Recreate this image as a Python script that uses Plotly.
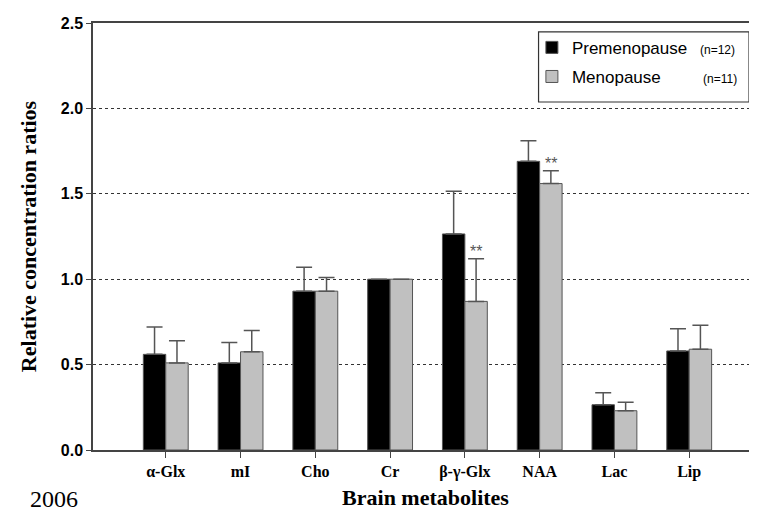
import plotly.graph_objects as go

categories = ["α-Glx", "mI", "Cho", "Cr", "β-γ-Glx", "NAA", "Lac", "Lip"]
pre_mean = [0.56, 0.51, 0.93, 1.00, 1.265, 1.69, 0.265, 0.58]
pre_sd = [0.16, 0.12, 0.14, 0.0, 0.25, 0.12, 0.07, 0.13]
meno_mean = [0.51, 0.575, 0.93, 1.00, 0.87, 1.56, 0.23, 0.59]
meno_sd = [0.13, 0.125, 0.08, 0.0, 0.25, 0.075, 0.05, 0.14]
signif = ["", "", "", "", "**", "**", "", ""]
y_ticks = [0.0, 0.5, 1.0, 1.5, 2.0, 2.5]

xs = list(range(len(categories)))

fig = go.Figure()
fig.add_trace(go.Bar(
    x=xs, y=pre_mean, name="Premenopause", legendgroup="a",
    marker=dict(color="black", line=dict(color="#555555", width=1)),
    error_y=dict(type="data", array=pre_sd, arrayminus=[0]*len(xs), symmetric=False,
                 color="#555555", thickness=1.5, width=8),
))
fig.add_trace(go.Bar(
    x=xs, y=meno_mean, name="Menopause", legendgroup="b",
    marker=dict(color="#c0c0c0", line=dict(color="#555555", width=1)),
    error_y=dict(type="data", array=meno_sd, arrayminus=[0]*len(xs), symmetric=False,
                 color="#555555", thickness=1.5, width=8),
))

serif = "Liberation Serif"
sans = "Liberation Sans"

for i, s in enumerate(signif):
    if s:
        fig.add_annotation(x=i + 0.15, y=meno_mean[i] + meno_sd[i], text=s, showarrow=False,
                           yanchor="bottom", yshift=-3, font=dict(family=sans, size=16, color="#555555"))

fig.update_layout(
    width=757, height=512,
    margin=dict(l=85, r=5, t=15, b=70),
    paper_bgcolor="white", plot_bgcolor="white",
    barmode="group", bargap=0.4, bargroupgap=0,
    showlegend=True,
    legend=dict(x=0.66, y=0.984, xanchor="left", yanchor="top",
                bgcolor="rgba(0,0,0,0)", borderwidth=0,
                font=dict(family=sans, size=17, color="black"),
                tracegroupgap=4, traceorder="grouped"),
    xaxis=dict(range=[-0.973, 7.92], tickvals=xs, ticktext=categories,
               showline=True, linecolor="#444444", linewidth=1.5, mirror=True,
               ticks="outside", ticklen=6, tickcolor="#444444",
               tickfont=dict(family=serif, size=16, color="black", weight="bold"),
               showgrid=False, zeroline=False,
               title=dict(text="<b>Brain metabolites</b>", standoff=10,
                          font=dict(family=serif, size=22, color="black"))),
    yaxis=dict(range=[0, 2.5], tickvals=y_ticks, tickformat=".1f",
               showline=True, linecolor="#444444", linewidth=1.5, mirror=True,
               ticks="outside", ticklen=5, tickcolor="#444444",
               tickfont=dict(family=sans, size=16, color="black", weight="bold"),
               showgrid=True, gridcolor="#333333", griddash="dot", gridwidth=1,
               zeroline=False,
               title=dict(text="<b>Relative concentration ratios</b>", standoff=18,
                          font=dict(family=serif, size=22, color="black"))),
)

fig.add_shape(type="rect", xref="paper", yref="paper", x0=0.670, x1=0.9865, y0=0.815, y1=0.979,
              line=dict(color="#333333", width=1.2), fillcolor="white", layer="below")
fig.add_annotation(xref="paper", yref="paper", x=0.9685, y=0.937, text="(n=12)", showarrow=False,
                   xanchor="right", yanchor="middle", font=dict(family=sans, size=12, color="black"))
fig.add_annotation(xref="paper", yref="paper", x=0.9715, y=0.869, text="(n=11)", showarrow=False,
                   xanchor="right", yanchor="middle", font=dict(family=sans, size=12, color="black"))
fig.add_annotation(xref="paper", yref="paper", x=-0.098, xanchor="left", y=-0.150, yanchor="bottom",
                   text="2006", showarrow=False, font=dict(family=serif, size=24, color="black"))

fig.write_html("out.html")
